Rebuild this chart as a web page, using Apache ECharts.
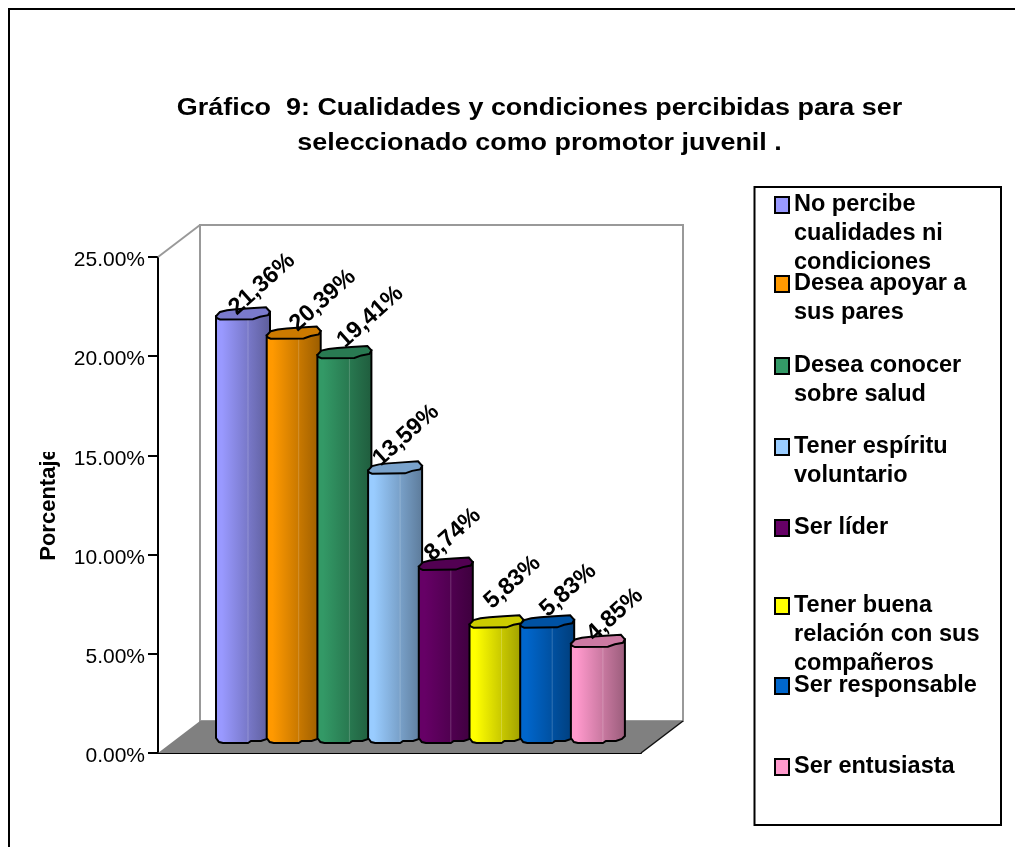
<!DOCTYPE html>
<html>
<head>
<meta charset="utf-8">
<style>html,body{margin:0;padding:0;background:#fff}#c{width:1015px;height:847px}</style>
<script src="https://cdn.jsdelivr.net/npm/echarts@6/dist/echarts.min.js"></script>
</head>
<body>
<div id="c"></div>
<script>
const categories = ['Porcentaje'];
const seriesNames = ['No percibe cualidades ni condiciones','Desea apoyar a sus pares','Desea conocer sobre salud','Tener espíritu voluntario','Ser líder','Tener buena relación con sus compañeros','Ser responsable','Ser entusiasta'];
const legendLines = [['No percibe','cualidades ni','condiciones'],['Desea apoyar a','sus pares'],['Desea conocer','sobre salud'],['Tener espíritu','voluntario'],['Ser líder'],['Tener buena','relación con sus','compañeros'],['Ser responsable'],['Ser entusiasta']];
const seriesValues = [21.36,20.39,19.41,13.59,8.74,5.83,5.83,4.85];
const seriesColors = ['#9999FF','#FF9900','#339966','#99CCFF','#660066','#FFFF00','#0066CC','#FF99CC'];
const yTicks = {min:0,max:25,interval:5};
const titleLines = ['Gráfico  9: Cualidades y condiciones percibidas para ser','seleccionado como promotor juvenil .'];

const FONT = '"Liberation Sans", Arial, sans-serif';
const DEPTH_X = 42, DEPTH_Y = 32;       // 3D wall depth
const BAR_DX = 21, BAR_DY = 16;         // bars sit mid-depth
const BAR_STEP = 50.7 / 483;            // fraction of the category band
const BAR_FIRST = 64 / 483;
const HW = 27;
const LEGEND_LH = 29;
const legendCenters = [205,284,366,447,528,606,686,767];
// per-bar placement of the rotated data labels relative to the bar top
const labelNudge = [[19,-29],[29,-32],[26,-35],[11,-32],[7,-29],[16,-39],[21,-31],[17,-26]];

function shade(hex,k){
  const n=parseInt(hex.slice(1),16);
  const f=s=>Math.round(((n>>s)&255)*k);
  return `rgb(${f(16)},${f(8)},${f(0)})`;
}
const topShape=[[-27,3],[-23,-1.3],[-16,-3],[-7,-4],[7,-5],[23,-6],[27,-1.5],[25,2],[17,3.5],[10,6],[-23,6.3],[-26,5]];
const bottomShape=[[27,-1],[24,2],[18,4],[8,4],[5,6],[-20,6],[-24,5],[-27,1]];

function barRender(i){
  return function(params,api){
    const p0=api.coord([0,0]), pv=api.coord([0,api.value(1)]);
    const band=api.size([1,0])[0];
    const left=p0[0]-band/2;
    const cx=left+band*(BAR_FIRST+BAR_STEP*i)+BAR_DX;
    const by=p0[1]-BAR_DY, ty=pv[1]-BAR_DY;
    const color=seriesColors[i];
    const sidePts=[[cx-HW,ty+3],[cx+HW,ty-1.5]].concat(bottomShape.map(p=>[cx+p[0],by+p[1]]));
    const txt=api.value(1).toFixed(2).replace('.',',')+'%';
    return {type:'group',children:[
      {type:'polygon',shape:{points:sidePts},style:{
        fill:{type:'linear',x:0,y:0,x2:1,y2:0,colorStops:[
          {offset:0,color:shade(color,1)},{offset:0.12,color:shade(color,1)},{offset:1,color:shade(color,0.6)}]},
        stroke:'#000',lineWidth:2}},
      {type:'line',shape:{x1:cx+5,y1:ty+6,x2:cx+5,y2:by+5},style:{stroke:'rgba(255,255,255,0.2)',lineWidth:1}},
      {type:'polygon',shape:{points:topShape.map(p=>[cx+p[0],ty+p[1]])},style:{fill:shade(color,0.8),stroke:'#000',lineWidth:2}},
      {type:'text',x:cx+labelNudge[i][0],y:ty+labelNudge[i][1],rotation:42*Math.PI/180,z2:100,style:{text:txt,fill:'#000',font:'bold 23.5px '+FONT,align:'center',verticalAlign:'middle'}}
    ]};
  };
}
function wallRender(params,api){
  const a=api.coord([0,0]), t=api.coord([0,25]);
  const band=api.size([1,0])[0];
  const l=a[0]-band/2, r=a[0]+band/2, y0=a[1], y1=t[1];
  const g='#999';
  return {type:'group',children:[
    {type:'polygon',shape:{points:[[l+DEPTH_X,y1-DEPTH_Y],[r+DEPTH_X,y1-DEPTH_Y],[r+DEPTH_X,y0-DEPTH_Y],[l+DEPTH_X,y0-DEPTH_Y]]},style:{fill:'#fff',stroke:g,lineWidth:2}},
    {type:'line',shape:{x1:l,y1:y1,x2:l+DEPTH_X,y2:y1-DEPTH_Y},style:{stroke:g,lineWidth:2}},
    {type:'polygon',shape:{points:[[l,y0],[l+DEPTH_X,y0-DEPTH_Y],[r+DEPTH_X,y0-DEPTH_Y],[r,y0]]},style:{fill:'#808080'}},
    {type:'line',shape:{x1:r,y1:y0,x2:r+DEPTH_X,y2:y0-DEPTH_Y},style:{stroke:'#111',lineWidth:1.5}}
  ]};
}
const series=[{type:'custom',name:'_wall',silent:true,z:1,renderItem:wallRender,data:[[0,0]],encode:{x:0,y:1}}]
 .concat(seriesNames.map((n,i)=>({type:'custom',name:n,z:2,renderItem:barRender(i),itemStyle:{color:seriesColors[i]},
   data:[[0,seriesValues[i]]],encode:{x:0,y:1}})));
const legends=seriesNames.map((n,i)=>{
  const lines=legendLines[i], k=lines.length;
  return {show:true,data:[n],orient:'vertical',left:774,top:legendCenters[i]-(2*k-1)/2*LEGEND_LH,padding:0,
    selectedMode:false,icon:'rect',itemWidth:14,itemHeight:16,
    itemStyle:{borderColor:'#000',borderWidth:2,color:seriesColors[i]},
    formatter:()=>Array(k-1).fill(' ').concat(lines).join('\n'),
    textStyle:{fontFamily:FONT,fontWeight:'bold',fontSize:23.5,lineHeight:LEGEND_LH,color:'#000'}};
});
const titleGraphics=titleLines.map((t,i)=>({type:'text',x:539.5,y:108.5+35*i,scaleX:1.17,z:40,silent:true,
  style:{text:t,font:'bold 23px '+FONT,fill:'#000',align:'center',verticalAlign:'middle'}}));
const chart=echarts.init(document.getElementById('c'),null,{renderer:'canvas'});
chart.setOption({
  animation:false,backgroundColor:'#fff',
  legend:legends,
  grid:{left:158,right:374,top:257,bottom:94},
  xAxis:{type:'category',data:categories,axisTick:{show:false},axisLabel:{show:false},
    axisLine:{lineStyle:{color:'#000',width:2}},splitLine:{show:false}},
  yAxis:{type:'value',min:yTicks.min,max:yTicks.max,interval:yTicks.interval,name:'Porcentaje',nameLocation:'middle',nameGap:98,nameRotate:90,
    nameTextStyle:{fontFamily:FONT,fontWeight:'bold',fontSize:22,color:'#000',padding:[0,0,0,1]},
    axisLine:{show:true,lineStyle:{color:'#000',width:2}},
    axisTick:{show:true,length:10,lineStyle:{color:'#000',width:2}},
    splitLine:{show:false},
    axisLabel:{fontFamily:FONT,fontSize:21,color:'#000',margin:13,verticalAlign:'top',lineHeight:7,formatter:v=>v.toFixed(2)+'%'}},
  series:series,
  graphic:titleGraphics.concat([
    {type:'rect',z:50,silent:true,shape:{x:9,y:9,width:1100,height:1000},style:{fill:'none',stroke:'#000',lineWidth:2}},
    {type:'rect',z:-1,silent:true,shape:{x:754.5,y:187,width:246.5,height:638},style:{fill:'#fff',stroke:'#000',lineWidth:2}},
    {type:'rect',z:50,silent:true,shape:{x:34,y:425,width:28,height:27},style:{fill:'#fff'}}
  ])
});
</script>
</body>
</html>
